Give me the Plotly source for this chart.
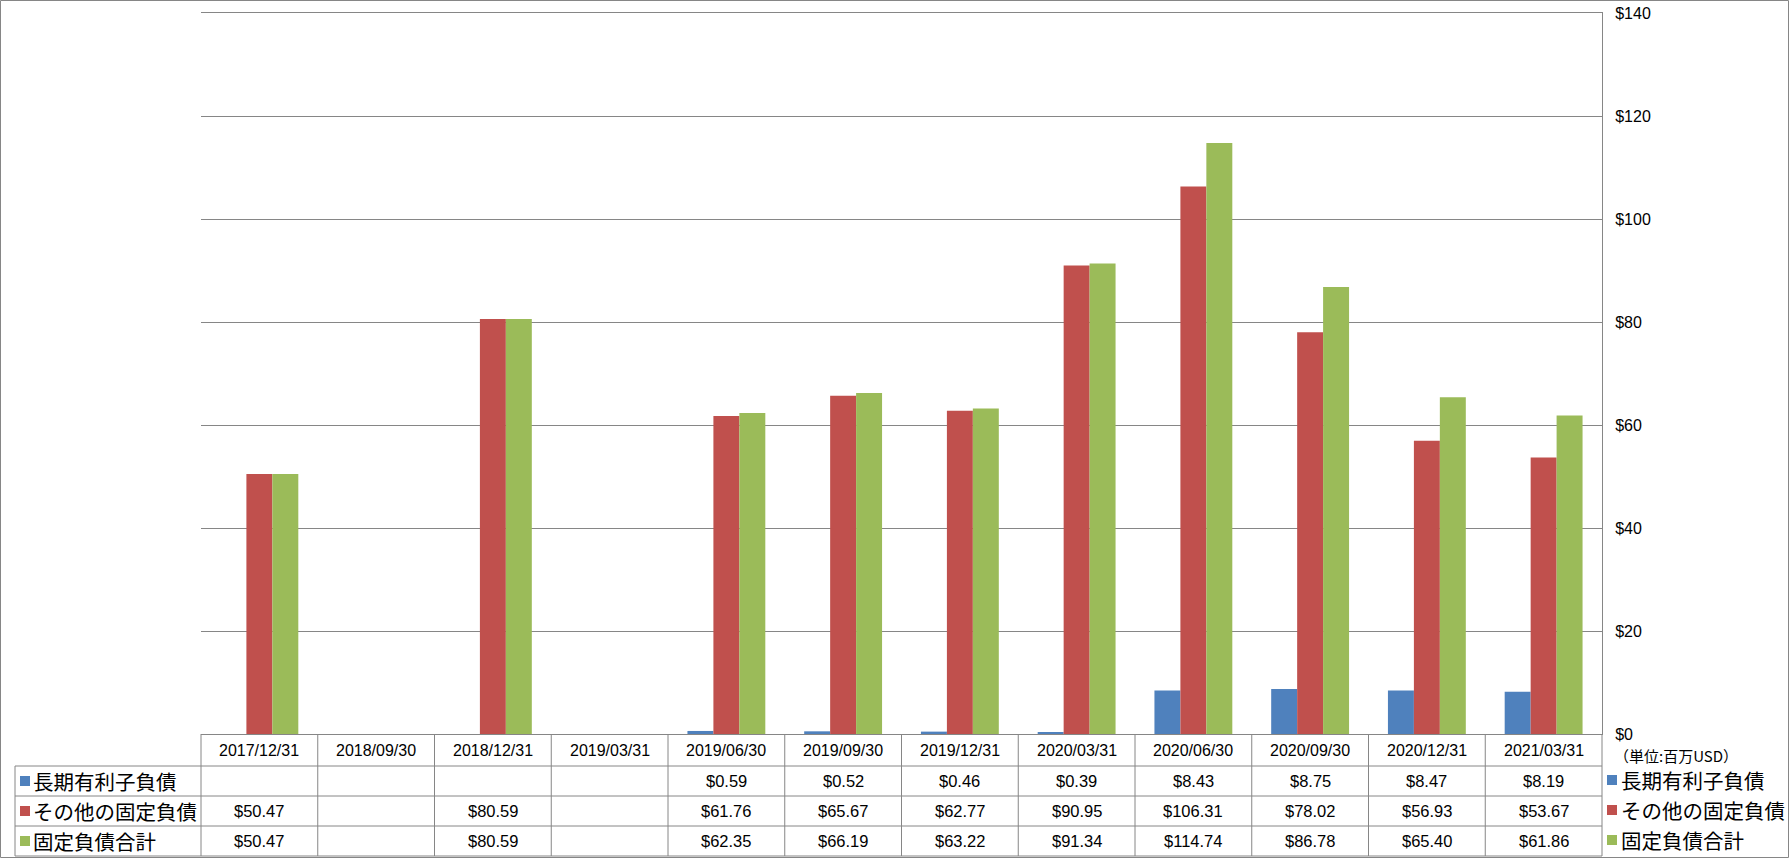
import plotly.graph_objects as go

categories = ["2017/12/31", "2018/09/30", "2018/12/31", "2019/03/31", "2019/06/30", "2019/09/30",
              "2019/12/31", "2020/03/31", "2020/06/30", "2020/09/30", "2020/12/31", "2021/03/31"]
series_names = ["長期有利子負債", "その他の固定負債", "固定負債合計"]
long_term_debt = [None, None, None, None, 0.59, 0.52, 0.46, 0.39, 8.43, 8.75, 8.47, 8.19]
other_fixed = [50.47, None, 80.59, None, 61.76, 65.67, 62.77, 90.95, 106.31, 78.02, 56.93, 53.67]
total_fixed = [50.47, None, 80.59, None, 62.35, 66.19, 63.22, 91.34, 114.74, 86.78, 65.40, 61.86]
colors = ["#4F81BD", "#C0504D", "#9BBB59"]
unit_label = "（単位:百万USD）"

all_series = [long_term_debt, other_fixed, total_fixed]

W, H = 1789, 858
L, R, T, B = 201, 187, 13, 124
PW, PH = W - L - R, H - T - B
GRID = "#868686"
LAT = "Liberation Sans"
CJK = "Noto Sans CJK JP"


def px_x(px):
    return (px - L) / PW


def px_y(py):
    return (H - B - py) / PH


fig = go.Figure()
for name, vals, c in zip(series_names, all_series, colors):
    fig.add_trace(go.Bar(x=categories, y=vals, name=name, marker=dict(color=c, line=dict(width=0)),
                         showlegend=False))

shapes = []
annotations = []

row_edges = [734, 766, 796, 826, 856]
row_centers = [(row_edges[i] + row_edges[i + 1]) / 2 for i in range(4)]
line = dict(color=GRID, width=1)

for py in row_edges[1:]:
    shapes.append(dict(type="line", xref="paper", yref="paper", x0=px_x(15), x1=1,
                       y0=px_y(py), y1=px_y(py), line=line, layer="above"))
shapes.append(dict(type="line", xref="paper", yref="paper", x0=px_x(15), x1=px_x(15),
                   y0=px_y(766), y1=px_y(856), line=line))
for xp in [0, 1]:
    shapes.append(dict(type="line", xref="paper", yref="paper", x0=xp, x1=xp,
                       y0=px_y(734), y1=px_y(856), line=line))
for i in range(1, len(categories)):
    shapes.append(dict(type="line", xref="x", yref="paper", x0=i - 0.5, x1=i - 0.5,
                       y0=px_y(734), y1=px_y(856), line=line))

shapes.append(dict(type="rect", xref="paper", yref="paper",
                   x0=px_x(0.5), x1=px_x(W - 0.5), y0=px_y(H - 0.5), y1=px_y(0.5),
                   line=dict(color=GRID, width=1), fillcolor="rgba(0,0,0,0)"))

for c in categories:
    annotations.append(dict(x=c, xref="x", y=px_y(row_centers[0]), yref="paper", text=c,
                            yanchor="middle", showarrow=False,
                            font=dict(family=LAT, size=16, color="black")))

for r, vals in enumerate(all_series):
    yc = px_y(row_centers[r + 1])
    for c, v in zip(categories, vals):
        if v is None:
            continue
        annotations.append(dict(x=c, xref="x", y=yc, yref="paper", text=f"${v:.2f}",
                                yanchor="middle", showarrow=False,
                                font=dict(family=LAT, size=16.5, color="black")))
    shapes.append(dict(type="rect", xref="paper", yref="paper",
                       x0=px_x(20), x1=px_x(30), y0=px_y(row_centers[r + 1] + 5),
                       y1=px_y(row_centers[r + 1] - 5), fillcolor=colors[r], line=dict(width=0)))
    annotations.append(dict(x=px_x(31), xref="paper", y=yc, yref="paper", text=series_names[r],
                            xanchor="left", yanchor="middle", showarrow=False,
                            font=dict(family=CJK, size=20.5, color="black")))

legend_y = [780, 810, 840]
for r, py in enumerate(legend_y):
    shapes.append(dict(type="rect", xref="paper", yref="paper",
                       x0=px_x(1607), x1=px_x(1617), y0=px_y(py + 5), y1=px_y(py - 5),
                       fillcolor=colors[r], line=dict(width=0)))
    annotations.append(dict(x=px_x(1619), xref="paper", y=px_y(py), yref="paper",
                            text=series_names[r], xanchor="left", yanchor="middle", showarrow=False,
                            font=dict(family=CJK, size=20.5, color="black")))

annotations.append(dict(x=px_x(1612), xref="paper", y=px_y(755), yref="paper", text=unit_label,
                        xanchor="left", yanchor="middle", showarrow=False,
                        font=dict(family=CJK, size=15, color="black")))

fig.update_layout(
    width=W, height=H, autosize=False,
    margin=dict(l=L, r=R, t=T, b=B, pad=0, autoexpand=False),
    paper_bgcolor="white", plot_bgcolor="white",
    barmode="group", bargap=0.333, bargroupgap=0,
    shapes=shapes, annotations=annotations,
    xaxis=dict(type="category", showticklabels=False, showgrid=False, zeroline=False,
               showline=True, mirror=True, linecolor=GRID, linewidth=1, ticks="",
               automargin=False),
    yaxis=dict(side="right", range=[0, 140], dtick=20, tickprefix="$", showgrid=True,
               gridcolor=GRID, gridwidth=1, zeroline=False, showline=True, linecolor=GRID,
               linewidth=1, ticks="", ticklabelstandoff=9, automargin=False,
               tickfont=dict(family=LAT, size=16, color="black")),
    font=dict(family=LAT, color="black"),
)

fig.write_html("out.html")
